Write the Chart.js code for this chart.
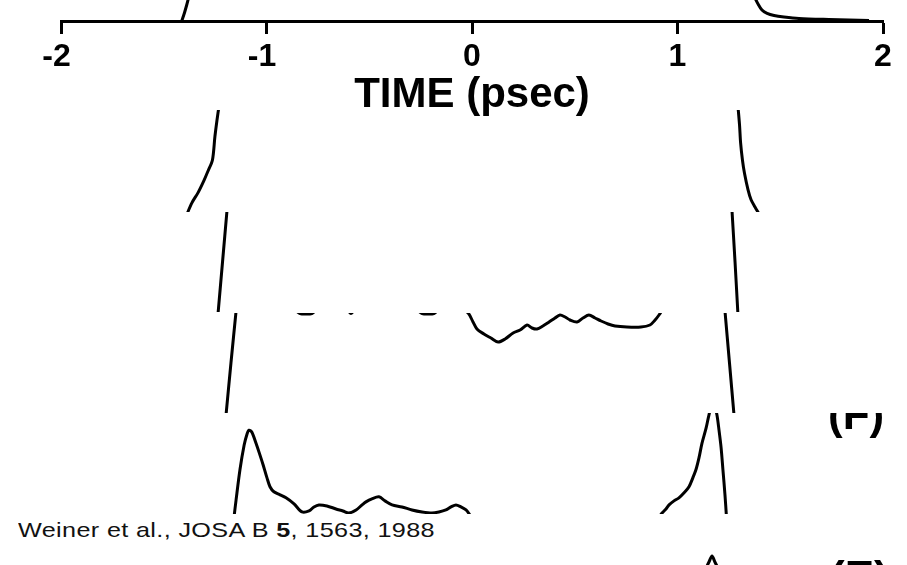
<!DOCTYPE html>
<html>
<head>
<meta charset="utf-8">
<script src="https://cdn.jsdelivr.net/npm/chart.js@4.4.0/dist/chart.umd.min.js"></script>
<style>
  html, body { margin: 0; padding: 0; background: #fff; }
  #page { position: relative; width: 907px; height: 565px; overflow: hidden; background: #fff; }
  #page canvas { position: absolute; left: 0; }
  .cut { position: absolute; overflow: hidden; }
  .panel { position: absolute; font-family: "Liberation Sans", Arial, sans-serif; font-weight: bold; font-size: 44px; line-height: 1; color: #000; white-space: nowrap; }
  #cite { position: absolute; left: 18px; top: 519px; font-family: "Liberation Sans", Arial, sans-serif; font-size: 21px; line-height: 1; letter-spacing: 0.3px; color: #111; white-space: nowrap; transform: scaleX(1.2); transform-origin: left top; }
</style>
</head>
<body>
<div id="page">
  <canvas id="stripTop" width="907" height="116" style="top:0px"></canvas>
  <canvas id="strip1" width="907" height="102" style="top:110px"></canvas>
  <canvas id="strip2" width="907" height="100" style="top:212px"></canvas>
  <canvas id="strip3" width="907" height="100" style="top:313px"></canvas>
  <canvas id="strip4" width="907" height="101" style="top:413px"></canvas>
  <canvas id="strip5" width="907" height="13" style="top:552px"></canvas>
  <div class="cut" style="left:820px;top:413px;width:87px;height:40px"><span class="panel" style="left:8px;top:-21px">(F)</span></div>
  <div class="cut" style="left:820px;top:552px;width:87px;height:13px"><span class="panel" style="left:10px;top:3px">(E)</span></div>
  <div id="cite">Weiner et al., JOSA B <b>5</b>, 1563, 1988</div>
</div>
<script>
// time axis (psec)
var timeTicks = ['-2', '-1', '0', '1', '2'];
var axisTitle = 'TIME (psec)';

// each strip: time (psec) and intensity as a fraction of the strip height
// top strip, above the time axis
var topRiseT = [-1.416, -1.401, -1.387, -1.377];
var topRiseI = [-0.10, 0.33, 0.81, 1.19];
var topFallT = [1.372, 1.392, 1.411, 1.436, 1.470, 1.518, 1.591, 1.737, 1.932];
var topFallI = [1.19, 0.81, 0.52, 0.36, 0.26, 0.19, 0.12, 0.07, 0.02];

// strip 1
var rise1T = [-1.387, -1.363, -1.333, -1.304, -1.285, -1.263, -1.251, -1.241, -1.231];
var rise1I = [-0.02, 0.09, 0.19, 0.31, 0.40, 0.51, 0.74, 0.90, 1.04];
var fall1T = [1.294, 1.302, 1.307, 1.316, 1.326, 1.343, 1.358, 1.377, 1.397];
var fall1I = [1.04, 0.85, 0.68, 0.51, 0.38, 0.22, 0.12, 0.05, -0.02];

// strip 2
var rise2T = [-1.236, -1.214, -1.192];
var rise2I = [-0.02, 0.50, 1.02];
var fall2T = [1.265, 1.280, 1.294];
var fall2I = [1.02, 0.50, -0.02];

// strip 3
var rise3T = [-1.197, -1.173, -1.148];
var rise3I = [-0.02, 0.50, 1.02];
var fall3T = [1.231, 1.253, 1.275];
var fall3I = [1.02, 0.50, -0.02];
var top3T = [-0.861, -0.837, -0.808, -0.779, -0.754, -0.608, -0.589, -0.569, -0.273, -0.243,
             -0.214, -0.185, -0.161, -0.063, -0.019, 0.005, 0.024, 0.058, 0.092, 0.127,
             0.161, 0.200, 0.234, 0.268, 0.292, 0.316, 0.345, 0.375, 0.404, 0.428,
             0.453, 0.477, 0.511, 0.540, 0.569, 0.599, 0.628, 0.662, 0.696, 0.754,
             0.822, 0.866, 0.891, 0.910, 0.929];
var top3I = [1.03, 0.995, 0.99, 0.995, 1.03, 1.03, 0.995, 1.03, 1.03, 0.995,
             0.99, 0.995, 1.03, 1.05, 1.00, 0.91, 0.84, 0.79, 0.75, 0.71,
             0.74, 0.80, 0.83, 0.88, 0.85, 0.84, 0.87, 0.91, 0.95, 0.98,
             0.96, 0.93, 0.91, 0.95, 0.98, 0.95, 0.92, 0.89, 0.87, 0.86,
             0.86, 0.88, 0.93, 0.98, 1.04];

// strip 4
var peak4T = [-1.158, -1.148, -1.129, -1.109, -1.095, -1.085, -1.071, -1.051, -1.036, -1.017,
              -0.998, -0.983, -0.964, -0.934, -0.905, -0.866, -0.827, -0.793, -0.769, -0.745,
              -0.706, -0.662, -0.628, -0.599, -0.564, -0.535, -0.516, -0.487, -0.453, -0.423,
              -0.389, -0.341, -0.292, -0.243, -0.195, -0.161, -0.127, -0.102, -0.078, -0.054,
              -0.029, -0.010, 0.015];
var peak4I = [-0.03, 0.14, 0.44, 0.68, 0.79, 0.83, 0.81, 0.70, 0.61, 0.49,
              0.36, 0.27, 0.22, 0.19, 0.16, 0.10, 0.02, 0.03, 0.07, 0.09,
              0.08, 0.05, 0.03, 0.01, 0.04, 0.09, 0.12, 0.15, 0.17, 0.13,
              0.09, 0.07, 0.04, 0.02, 0.01, 0.02, 0.04, 0.07, 0.09, 0.07,
              0.04, -0.01, -0.08];
var spike4T = [0.910, 0.925, 0.944, 0.959, 0.983, 1.007, 1.032, 1.056, 1.075, 1.090, 1.105,
               1.119, 1.139, 1.153, 1.168, 1.182, 1.192, 1.202, 1.212, 1.221, 1.231, 1.238];
var spike4I = [-0.03, 0.01, 0.05, 0.09, 0.13, 0.16, 0.21, 0.27, 0.36, 0.44, 0.56,
               0.70, 0.85, 0.98, 1.08, 1.05, 0.98, 0.83, 0.66, 0.44, 0.19, -0.02];

// strip 5, bottom edge
var spike5T = [1.139, 1.153, 1.168, 1.182, 1.197];
var spike5I = [-0.23, 0.23, 0.69, 0.23, -0.23];

function pts(t, v) {
  var out = [];
  for (var i = 0; i < t.length; i++) out.push({x: t[i], y: v[i]});
  return out;
}

function trace(t, v) {
  return {
    data: pts(t, v),
    borderColor: '#000',
    borderWidth: 3,
    pointRadius: 0,
    tension: 0.3,
    fill: false,
    clip: 0
  };
}

function strip(id, sets, withAxis) {
  var xScale = {
    type: 'linear',
    min: -2,
    max: 2,
    display: false
  };
  if (withAxis) {
    xScale = {
      type: 'linear',
      position: 'bottom',
      min: -2,
      max: 2,
      afterBuildTicks: function (scale) {
        scale.ticks = timeTicks.map(function (s) { return {value: Number(s)}; });
      },
      afterFit: function (scale) { scale.height = 95; },
      border: {display: true, color: '#000', width: 3},
      grid: {drawOnChartArea: false, drawTicks: true, tickLength: 13, tickWidth: 3, tickColor: '#000'},
      ticks: {
        color: '#000',
        padding: 4,
        maxRotation: 0,
        font: {family: '"Liberation Sans", Arial, sans-serif', size: 32, weight: 'bold', lineHeight: 1.2},
        callback: function (value) {
          var s = timeTicks[timeTicks.indexOf(String(value))];
          // the minus sign hangs to the left of the tick, digit sits under it
          return s.charAt(0) === '-' ? s + ' ' : s;
        }
      },
      title: {
        display: true,
        text: axisTitle,
        color: '#000',
        padding: 0,
        font: {family: '"Liberation Sans", Arial, sans-serif', size: 42, weight: 'bold', lineHeight: 1}
      }
    };
  }
  return new Chart(document.getElementById(id), {
    type: 'line',
    data: {datasets: sets},
    options: {
      responsive: false,
      animation: false,
      events: [],
      layout: {padding: {left: 61, right: 24, top: 0, bottom: 0}},
      plugins: {legend: {display: false}, tooltip: {enabled: false}},
      scales: {
        x: xScale,
        y: {display: false, min: 0, max: 1}
      }
    }
  });
}

strip('stripTop', [trace(topRiseT, topRiseI), trace(topFallT, topFallI)], true);
strip('strip1', [trace(rise1T, rise1I), trace(fall1T, fall1I)]);
strip('strip2', [trace(rise2T, rise2I), trace(fall2T, fall2I)]);
strip('strip3', [trace(rise3T, rise3I), trace(fall3T, fall3I), trace(top3T, top3I)]);
strip('strip4', [trace(peak4T, peak4I), trace(spike4T, spike4I)]);
strip('strip5', [trace(spike5T, spike5I)]);
</script>
</body>
</html>
